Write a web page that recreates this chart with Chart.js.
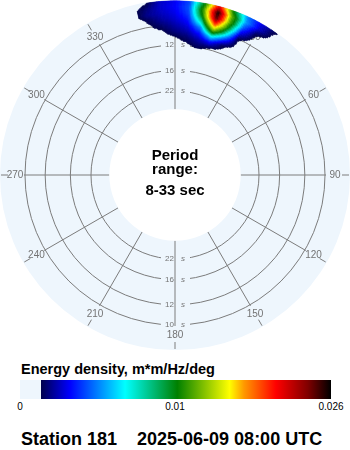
<!DOCTYPE html>
<html>
<head>
<meta charset="utf-8">
<script src="https://cdn.jsdelivr.net/npm/chart.js@4.4.0/dist/chart.umd.min.js"></script>
<style>
  html, body { margin: 0; padding: 0; background: #fff; }
  body { width: 350px; height: 450px; position: relative; overflow: hidden;
         font-family: "Liberation Sans", Arial, sans-serif; color: #000; }
  #wrap { position: absolute; left: 0; top: 0; width: 350px; height: 350px; }
  .mid { position: absolute; left: 0; width: 350px; text-align: center;
         font-weight: bold; font-size: 15px; line-height: 15px; }
  #barTitle { position: absolute; left: 21px; top: 362px; font-weight: bold;
              font-size: 14.5px; line-height: 14.5px; white-space: nowrap; }
  #bar { position: absolute; left: 20px; top: 380px; width: 311px; height: 19px; }
  .tick { position: absolute; top: 402px; font-size: 10px; line-height: 10px;
          transform: translateX(-50%); white-space: nowrap; }
  #station { position: absolute; left: 21px; top: 430px; font-weight: bold;
             font-size: 18px; line-height: 18px; white-space: pre; }
</style>
</head>
<body>
<div id="wrap"><canvas id="polar" width="350" height="350"></canvas></div>
<div class="mid" style="top:147px">Period</div>
<div class="mid" style="top:161px">range:</div>
<div class="mid" style="top:182px">8-33 sec</div>
<div id="barTitle">Energy density, m*m/Hz/deg</div>
<div id="bar"></div>
<div id="station">Station 181    2025-06-09 08:00 UTC</div>
<script>
// ---- data ----
const DIRECTIONS = [-15, -10, -5, 0, 5, 10, 15, 20, 25, 30, 35, 40];            // deg (from)
const FREQUENCIES = [0.08, 0.085, 0.09, 0.095, 0.1, 0.105, 0.11, 0.115, 0.12];   // Hz
// energy density (m*m/Hz/deg), one row per direction, one value per frequency
const E_M15 = [0.0003, 0.0004, 0.0005, 0.0006, 0.0007, 0.0008, 0.0010, 0.0010, 0.0009];
const E_M10 = [0.0005, 0.0007, 0.0009, 0.0011, 0.0012, 0.00145, 0.0020, 0.0018, 0.0012];
const E_M5  = [0.0006, 0.0008, 0.0010, 0.00125, 0.0017, 0.0022, 0.0025, 0.0027, 0.0026];
const E_0   = [0.0007, 0.0010, 0.0013, 0.0019, 0.0023, 0.0027, 0.0030, 0.0032, 0.0031];
const E_5   = [0.0009, 0.00125, 0.0017, 0.0023, 0.0029, 0.0035, 0.0041, 0.0044, 0.0042];
const E_10  = [0.0011, 0.0017, 0.0024, 0.0035, 0.0052, 0.0080, 0.0105, 0.0115, 0.0100];
const E_15  = [0.0008, 0.00145, 0.0035, 0.0072, 0.0130, 0.0190, 0.0245, 0.0260, 0.0210];
const E_20  = [0.0006, 0.0011, 0.0016, 0.0040, 0.0072, 0.0100, 0.0118, 0.0122, 0.0100];
const E_25  = [0.0004, 0.0006, 0.0009, 0.0012, 0.0015, 0.0030, 0.0045, 0.0055, 0.0050];
const E_30  = [0.0002, 0.0003, 0.0004, 0.0006, 0.0008, 0.0011, 0.0015, 0.0028, 0.0030];
const E_35  = [0.0001, 0.0002, 0.0003, 0.0004, 0.0005, 0.0007, 0.0009, 0.0012, 0.0015];
const E_40  = [0.0001, 0.0001, 0.0002, 0.0002, 0.0003, 0.0004, 0.0005, 0.0006, 0.0007];
const ENERGY = [E_M15, E_M10, E_M5, E_0, E_5, E_10, E_15, E_20, E_25, E_30, E_35, E_40];

const SPOKE_DIRS = [0, 30, 60, 90, 120, 150, 180, 210, 240, 270, 300, 330];
const ANGLE_LABELS = ['0', '30', '60', '90', '120', '150', '180', '210', '240', '270', '300', '330'];
const RING_PERIODS = [22, 16, 12, 10];       // s
const PERIOD_RANGE = [8, 33];                // s
const BAR_TICK_VALUES = [0, 0.01, 0.026];
const BAR_TICK_LABELS = ['0', '0.01', '0.026'];

// ---- styling ----
const DISC = '#eef6fd';
const GRID = '#7c7c7c';
const TXT = '#737373';
const R_MIN = -0.02397, R_MAX = 0.12066;     // radial axis range in Hz
const BAR_EMPTY = 0.0675;                    // share of the bar left blank
const MAP_POS = [0, 0.1, 0.29, 0.47, 0.65, 0.70, 0.81, 0.92, 1];
const MAP_COL = ['#00004d', '#0000ff', '#00ffff', '#008000', '#ffff00', '#ff9900', '#ff0000', '#800000', '#000000'];

const hex = h => [1, 3, 5].map(i => parseInt(h.substr(i, 2), 16));
const MAP_RGB = MAP_COL.map(hex);

// value -> position on the colour bar (0..1), piecewise between the bar ticks
function barPos(v) {
  const pos = [0, 0.4984, 1];
  for (let i = 1; i < BAR_TICK_VALUES.length; i++) {
    if (v <= BAR_TICK_VALUES[i]) {
      const t = (v - BAR_TICK_VALUES[i - 1]) / (BAR_TICK_VALUES[i] - BAR_TICK_VALUES[i - 1]);
      return pos[i - 1] + t * (pos[i] - pos[i - 1]);
    }
  }
  return 1;
}

function colourFor(v) {
  const b = barPos(v);
  if (b < BAR_EMPTY) return null;
  const p = Math.min(1, (b - BAR_EMPTY) / (1 - BAR_EMPTY));
  let i = 1;
  while (i < MAP_POS.length - 1 && p > MAP_POS[i]) i++;
  const t = (p - MAP_POS[i - 1]) / (MAP_POS[i] - MAP_POS[i - 1]);
  const a = MAP_RGB[i - 1], c = MAP_RGB[i];
  const rgb = a.map((x, k) => Math.round(x + (c[k] - x) * t));
  return `rgb(${rgb[0]},${rgb[1]},${rgb[2]})`;
}

// colour bar + ticks
(function buildBar() {
  const stops = [`${DISC} 0%`, `${DISC} ${BAR_EMPTY * 100}%`];
  MAP_POS.forEach((p, i) => stops.push(`${MAP_COL[i]} ${(BAR_EMPTY + p * (1 - BAR_EMPTY)) * 100}%`));
  document.getElementById('bar').style.background = `linear-gradient(to right, ${stops.join(', ')})`;
  BAR_TICK_VALUES.forEach((v, i) => {
    const d = document.createElement('div');
    d.className = 'tick';
    d.textContent = BAR_TICK_LABELS[i];
    d.style.left = (20 + barPos(v) * 311) + 'px';
    document.body.appendChild(d);
  });
})();

const rad = deg => (deg - 90) * Math.PI / 180;

const polarPlugin = {
  id: 'polarSpectrum',
  beforeDraw(chart) {
    const s = chart.scales.r, ctx = chart.ctx;
    ctx.save();
    ctx.fillStyle = DISC;
    ctx.beginPath();
    ctx.arc(s.xCenter, s.yCenter, s.drawingArea, 0, Math.PI * 2);
    ctx.fill();
    ctx.restore();
  },
  beforeDatasetsDraw(chart) {
    const s = chart.scales.r, ctx = chart.ctx;
    const xc = s.xCenter, yc = s.yCenter;
    const rOf = f => s.getDistanceFromCenterForValue(f);
    const pt = (deg, r) => [xc + r * Math.cos(rad(deg)), yc + r * Math.sin(rad(deg))];
    const rIn = rOf(1 / PERIOD_RANGE[1]);
    const rOut = rOf(1 / RING_PERIODS[RING_PERIODS.length - 1]);
    ctx.save();

    // ring labels, top and bottom
    RING_PERIODS.forEach(p => {
      const r = rOf(1 / p);
      [yc - r, yc + r].forEach(y => {
        ctx.fillStyle = DISC;
        ctx.fillRect(xc - 14, y - 4, 29, 8);
        ctx.fillStyle = TXT;
        ctx.textBaseline = 'middle';
        ctx.font = '8px "Liberation Sans", Arial, sans-serif';
        ctx.textAlign = 'right';
        ctx.fillText(String(p), xc - 1, y);
        ctx.font = 'italic 8px "Liberation Sans", Arial, sans-serif';
        ctx.textAlign = 'left';
        ctx.fillText('s', xc + 6, y);
      });
    });

    // spokes, direction labels and outer ticks
    ctx.strokeStyle = GRID;
    ctx.lineWidth = 1;
    ctx.fillStyle = TXT;
    ctx.font = '10px "Liberation Sans", Arial, sans-serif';
    ctx.textAlign = 'center';
    ctx.textBaseline = 'middle';
    SPOKE_DIRS.forEach((d, i) => {
      let a = pt(d, rIn), b = pt(d, rOut + 1);
      ctx.beginPath(); ctx.moveTo(a[0], a[1]); ctx.lineTo(b[0], b[1]); ctx.stroke();
      a = pt(d, rOut + 17); b = pt(d, rOut + 24);
      ctx.beginPath(); ctx.moveTo(a[0], a[1]); ctx.lineTo(b[0], b[1]); ctx.stroke();
      const l = pt(d, rOut + 10);
      ctx.fillText(ANGLE_LABELS[i], l[0], l[1] + 0.5);
    });

    // directional spectrum, shaded between the grid nodes
    ctx.beginPath();
    ctx.arc(xc, yc, s.drawingArea, 0, Math.PI * 2);
    ctx.clip();
    const NA = 10, NR = 6;
    for (let i = 0; i < DIRECTIONS.length - 1; i++) {
      for (let j = 0; j < FREQUENCIES.length - 1; j++) {
        const v00 = ENERGY[i][j], v10 = ENERGY[i + 1][j], v01 = ENERGY[i][j + 1], v11 = ENERGY[i + 1][j + 1];
        for (let a = 0; a < NA; a++) {
          for (let k = 0; k < NR; k++) {
            const u = (a + 0.5) / NA, w = (k + 0.5) / NR;
            const v = v00 * (1 - u) * (1 - w) + v10 * u * (1 - w) + v01 * (1 - u) * w + v11 * u * w;
            const col = colourFor(v);
            if (!col) continue;
            const d0 = DIRECTIONS[i] + (DIRECTIONS[i + 1] - DIRECTIONS[i]) * a / NA;
            const d1 = DIRECTIONS[i] + (DIRECTIONS[i + 1] - DIRECTIONS[i]) * (a + 1) / NA;
            const r0 = rOf(FREQUENCIES[j] + (FREQUENCIES[j + 1] - FREQUENCIES[j]) * k / NR);
            const r1 = rOf(FREQUENCIES[j] + (FREQUENCIES[j + 1] - FREQUENCIES[j]) * (k + 1) / NR);
            ctx.beginPath();
            ctx.arc(xc, yc, r1, rad(d0), rad(d1));
            ctx.arc(xc, yc, r0, rad(d1), rad(d0), true);
            ctx.closePath();
            ctx.fillStyle = col;
            ctx.strokeStyle = col;
            ctx.lineWidth = 0.7;
            ctx.fill();
            ctx.stroke();
          }
        }
      }
    }

    // empty centre (periods longer than the range)
    ctx.fillStyle = '#ffffff';
    ctx.beginPath();
    ctx.arc(xc, yc, rIn, 0, Math.PI * 2);
    ctx.fill();
    ctx.restore();
  }
};

new Chart(document.getElementById('polar'), {
  type: 'radar',
  data: {
    labels: ANGLE_LABELS,
    datasets: [{ data: [], pointRadius: 0, borderWidth: 0 }]
  },
  options: {
    responsive: false,
    animation: false,
    devicePixelRatio: 1,
    layout: { padding: 0 },
    plugins: { legend: { display: false }, tooltip: { enabled: false } },
    scales: {
      r: {
        min: R_MIN,
        max: R_MAX,
        startAngle: 0,
        angleLines: { display: false },
        pointLabels: { display: false },
        ticks: { display: false },
        grid: { circular: true, color: GRID, lineWidth: 1 },
        afterBuildTicks: scale => { scale.ticks = RING_PERIODS.map(p => ({ value: 1 / p })); }
      }
    }
  },
  plugins: [polarPlugin]
});
</script>
</body>
</html>
